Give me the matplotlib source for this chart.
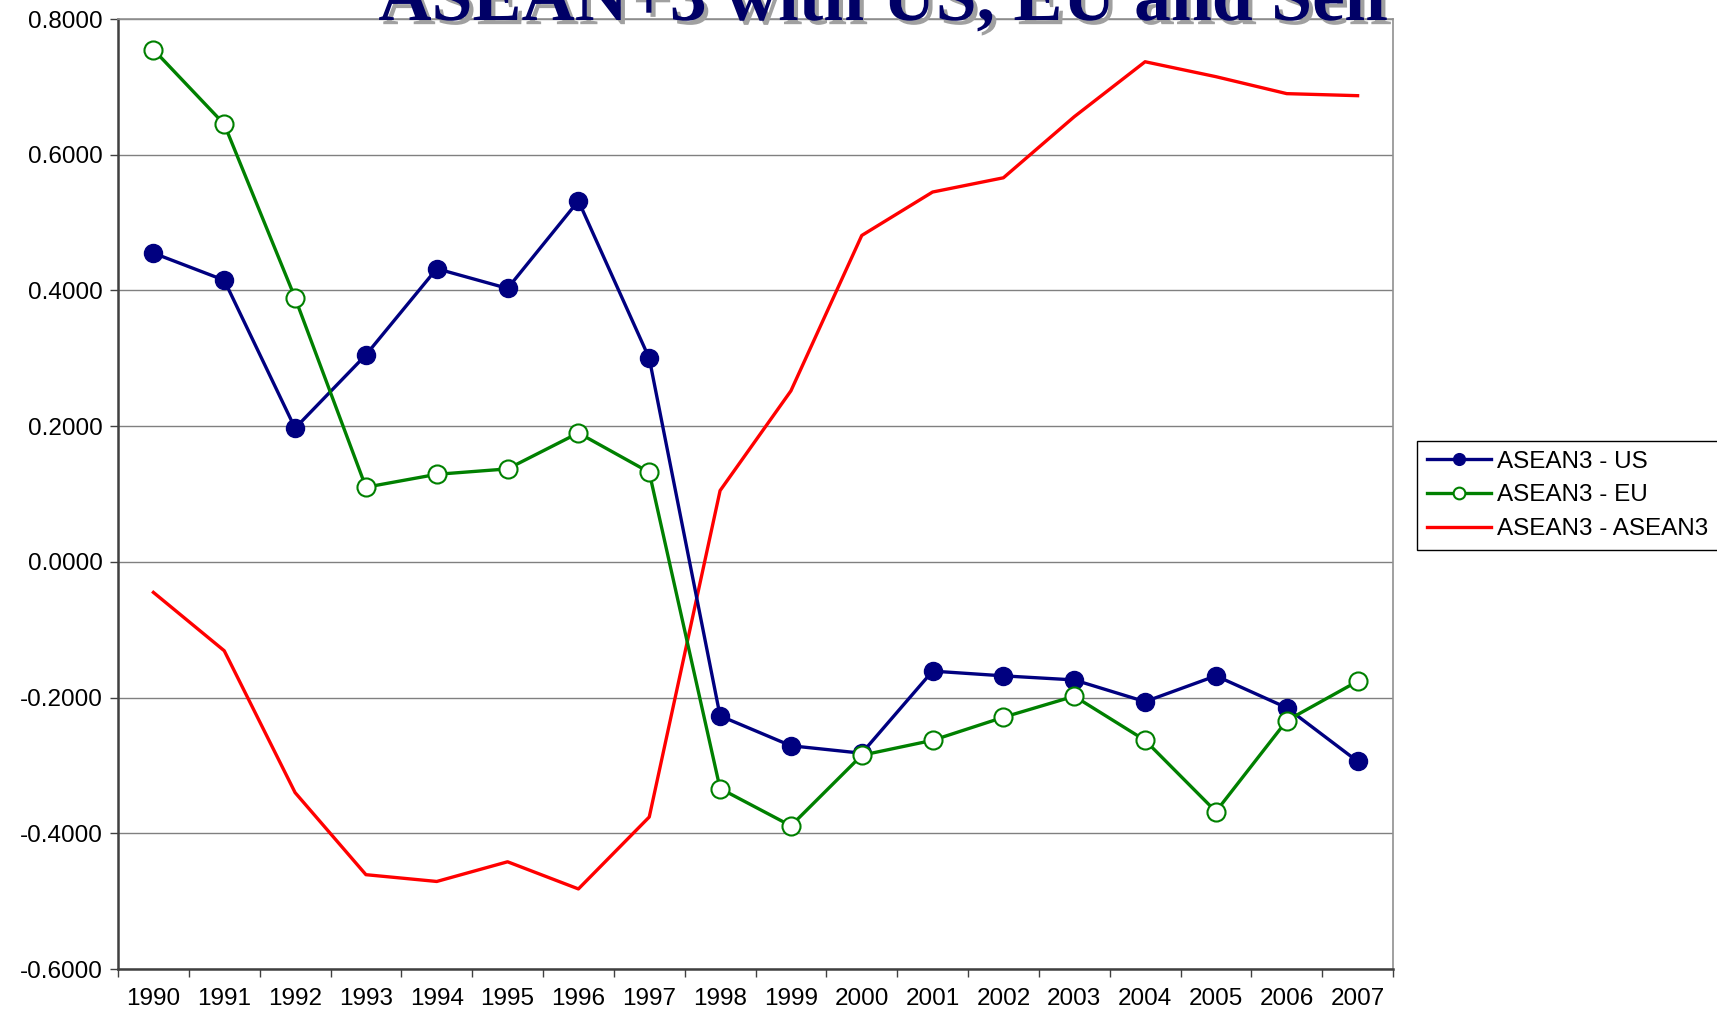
import matplotlib
matplotlib.use("Agg")
import matplotlib.pyplot as plt
import matplotlib.patheffects as pe
import numpy as np

years = [str(y) for y in range(1990, 2008)]
us = [0.455, 0.415, 0.197, 0.305, 0.432, 0.403, 0.532, 0.300, -0.227, -0.271,
      -0.282, -0.161, -0.168, -0.174, -0.206, -0.168, -0.215, -0.294]
eu = [0.755, 0.645, 0.389, 0.110, 0.129, 0.137, 0.190, 0.132, -0.334, -0.389,
      -0.285, -0.263, -0.229, -0.198, -0.263, -0.368, -0.234, -0.176]
asean = [-0.045, -0.131, -0.340, -0.461, -0.471, -0.442, -0.482, -0.376, 0.105, 0.252,
         0.481, 0.545, 0.566, 0.656, 0.737, 0.715, 0.690, 0.687]
series_labels = ["ASEAN3 - US", "ASEAN3 - EU", "ASEAN3 - ASEAN3"]
yticks = [-0.6, -0.4, -0.2, 0.0, 0.2, 0.4, 0.6, 0.8]
title = "ASEAN+3 with US, EU and Self"

plt.rcParams['font.family'] = ['Liberation Sans', 'DejaVu Sans']

W, H = 1717, 1014
fig = plt.figure(figsize=(W / 100, H / 100), dpi=100)
left, right, top, bottom = 118, 1393, 19, 969
ax = fig.add_axes([left / W, 1 - bottom / H, (right - left) / W, (bottom - top) / H])

x = np.arange(len(years))
ax.plot(x, us, color='#000080', lw=2.4, marker='o', ms=13, mfc='#000080', mec='#000080',
        label=series_labels[0], zorder=4)
ax.plot(x, eu, color='#008000', lw=2.4, marker='o', ms=13, mfc='white', mec='#008000',
        mew=1.5, label=series_labels[1], zorder=4)
ax.plot(x, asean, color='#FF0000', lw=2.4, label=series_labels[2], zorder=3)

ax.set_xlim(-0.5, len(years) - 0.5)
ax.set_ylim(-0.6, 0.8)
ax.set_yticks(yticks)
ax.set_yticklabels([f"{v:.4f}" for v in yticks], fontsize=17.5)
ax.set_xticks(x)
ax.set_xticklabels(years, fontsize=17.5)
ax.set_xticks(np.arange(-0.5, len(years), 1.0), minor=True)
ax.tick_params(axis='x', which='major', length=0, pad=14)
ax.tick_params(axis='x', which='minor', length=6, width=1, color='#404040', direction='out')
ax.tick_params(axis='y', length=6, width=1, color='#404040', direction='out', pad=5)
ax.yaxis.grid(True, color='#808080', lw=1.0)
ax.set_axisbelow(True)
for s in ['top', 'right']:
    ax.spines[s].set_color('#909090')
    ax.spines[s].set_linewidth(1.2)
for s in ['left', 'bottom']:
    ax.spines[s].set_color('#404040')
    ax.spines[s].set_linewidth(1.8)

leg = fig.legend(loc='upper left', bbox_to_anchor=(1417 / W, 1 - 441 / H), fontsize=17.5,
                 frameon=True, fancybox=False, edgecolor='black', framealpha=1,
                 handlelength=2.65, handletextpad=0.25, labelspacing=0.48, borderpad=0.4,
                 borderaxespad=0, markerscale=0.65)
leg.get_frame().set_linewidth(1.0)

fig.text(0.515, 1 - 20 / H, title, ha='center', va='baseline', fontsize=53,
         fontweight='bold', family='Liberation Serif', color='#000066',
         path_effects=[pe.withSimplePatchShadow(offset=(3, -3), shadow_rgbFace='#a0a0a0', alpha=1.0)])

fig.savefig('out.png', dpi=100)
